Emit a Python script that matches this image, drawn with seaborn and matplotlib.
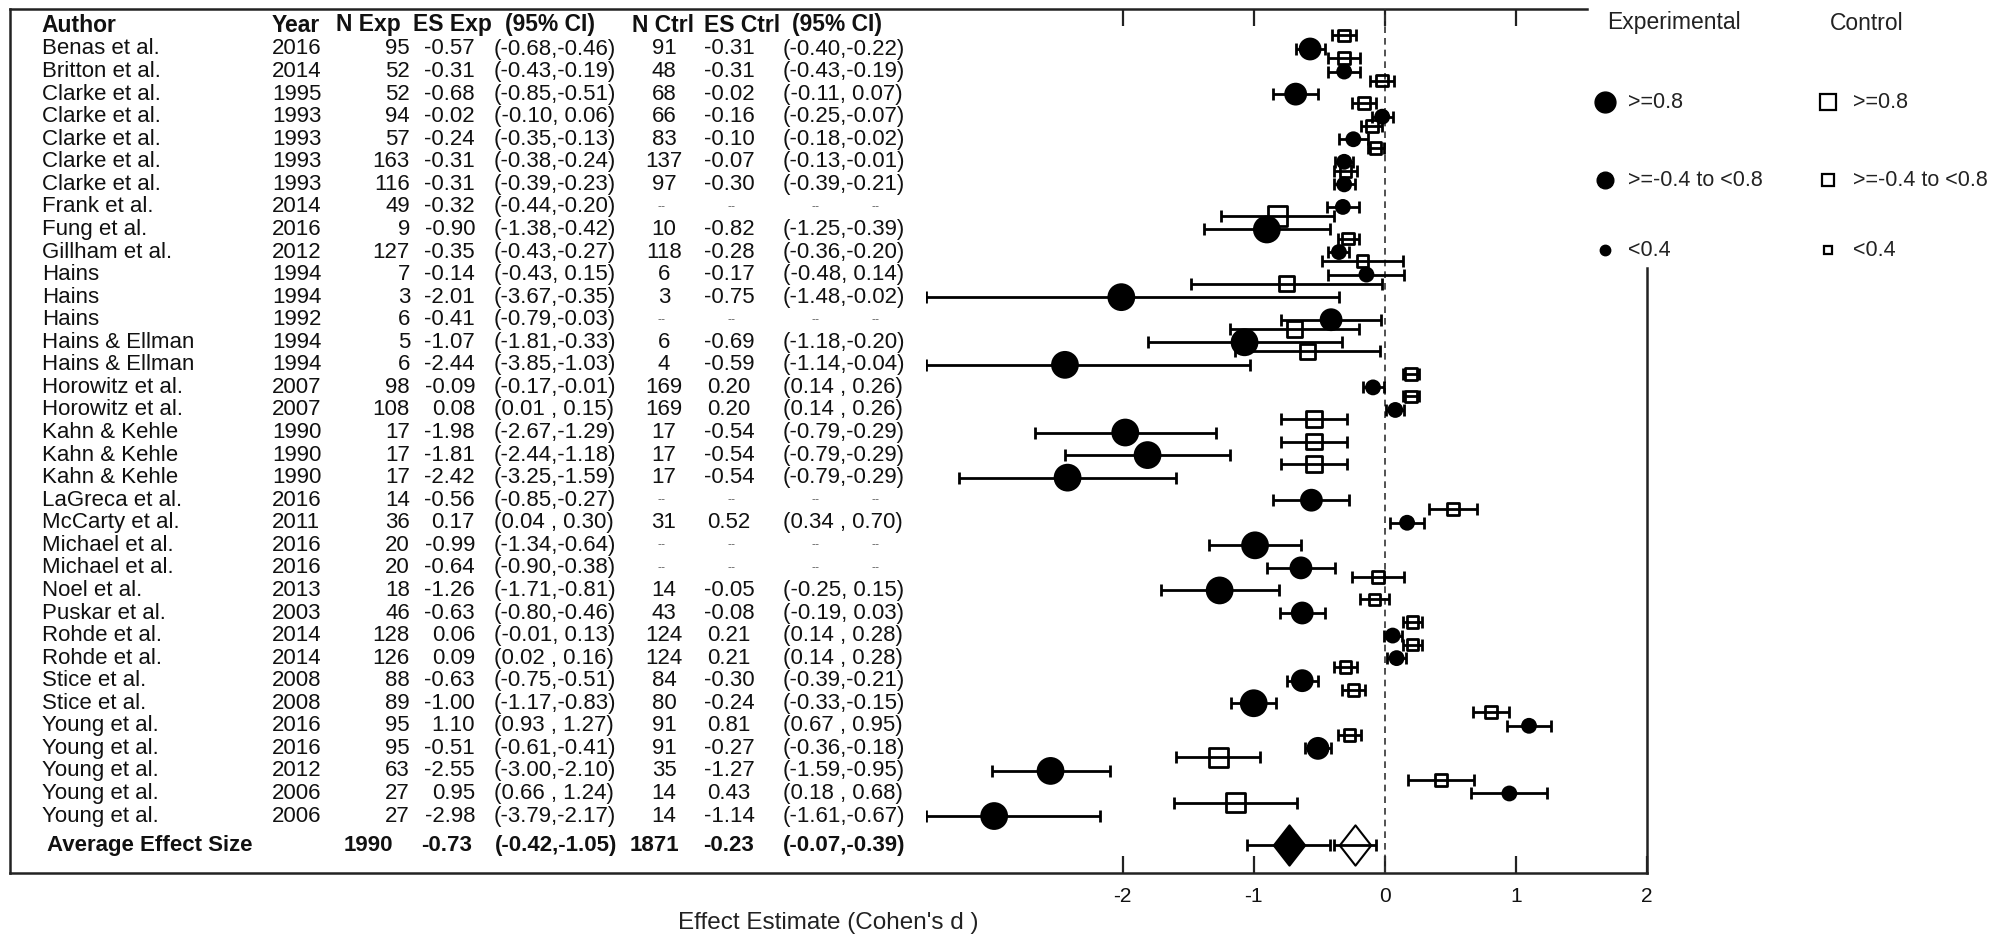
import matplotlib.pyplot as plt
import numpy as np
import pandas as pd
import seaborn as sns
from matplotlib.path import Path

nan = np.nan

# ---- data ----
authors = [
    "Benas et al.", "Britton et al.", "Clarke et al.", "Clarke et al.", "Clarke et al.",
    "Clarke et al.", "Clarke et al.", "Frank et al.", "Fung et al.", "Gillham et al.",
    "Hains", "Hains", "Hains", "Hains & Ellman", "Hains & Ellman",
    "Horowitz et al.", "Horowitz et al.", "Kahn & Kehle", "Kahn & Kehle", "Kahn & Kehle",
    "LaGreca et al.", "McCarty et al.", "Michael et al.", "Michael et al.", "Noel et al.",
    "Puskar et al.", "Rohde et al.", "Rohde et al.", "Stice et al.", "Stice et al.",
    "Young et al.", "Young et al.", "Young et al.", "Young et al.", "Young et al.",
]
years = [2016, 2014, 1995, 1993, 1993, 1993, 1993, 2014, 2016, 2012,
         1994, 1994, 1992, 1994, 1994, 2007, 2007, 1990, 1990, 1990,
         2016, 2011, 2016, 2016, 2013, 2003, 2014, 2014, 2008, 2008,
         2016, 2016, 2012, 2006, 2006]
n_exp = [95, 52, 52, 94, 57, 163, 116, 49, 9, 127,
         7, 3, 6, 5, 6, 98, 108, 17, 17, 17,
         14, 36, 20, 20, 18, 46, 128, 126, 88, 89,
         95, 95, 63, 27, 27]
es_exp = [-0.57, -0.31, -0.68, -0.02, -0.24, -0.31, -0.31, -0.32, -0.90, -0.35,
          -0.14, -2.01, -0.41, -1.07, -2.44, -0.09, 0.08, -1.98, -1.81, -2.42,
          -0.56, 0.17, -0.99, -0.64, -1.26, -0.63, 0.06, 0.09, -0.63, -1.00,
          1.10, -0.51, -2.55, 0.95, -2.98]
lo_exp = [-0.68, -0.43, -0.85, -0.10, -0.35, -0.38, -0.39, -0.44, -1.38, -0.43,
          -0.43, -3.67, -0.79, -1.81, -3.85, -0.17, 0.01, -2.67, -2.44, -3.25,
          -0.85, 0.04, -1.34, -0.90, -1.71, -0.80, -0.01, 0.02, -0.75, -1.17,
          0.93, -0.61, -3.00, 0.66, -3.79]
hi_exp = [-0.46, -0.19, -0.51, 0.06, -0.13, -0.24, -0.23, -0.20, -0.42, -0.27,
          0.15, -0.35, -0.03, -0.33, -1.03, -0.01, 0.15, -1.29, -1.18, -1.59,
          -0.27, 0.30, -0.64, -0.38, -0.81, -0.46, 0.13, 0.16, -0.51, -0.83,
          1.27, -0.41, -2.10, 1.24, -2.17]
n_ctrl = [91, 48, 68, 66, 83, 137, 97, nan, 10, 118,
          6, 3, nan, 6, 4, 169, 169, 17, 17, 17,
          nan, 31, nan, nan, 14, 43, 124, 124, 84, 80,
          91, 91, 35, 14, 14]
es_ctrl = [-0.31, -0.31, -0.02, -0.16, -0.10, -0.07, -0.30, nan, -0.82, -0.28,
           -0.17, -0.75, nan, -0.69, -0.59, 0.20, 0.20, -0.54, -0.54, -0.54,
           nan, 0.52, nan, nan, -0.05, -0.08, 0.21, 0.21, -0.30, -0.24,
           0.81, -0.27, -1.27, 0.43, -1.14]
lo_ctrl = [-0.40, -0.43, -0.11, -0.25, -0.18, -0.13, -0.39, nan, -1.25, -0.36,
           -0.48, -1.48, nan, -1.18, -1.14, 0.14, 0.14, -0.79, -0.79, -0.79,
           nan, 0.34, nan, nan, -0.25, -0.19, 0.14, 0.14, -0.39, -0.33,
           0.67, -0.36, -1.59, 0.18, -1.61]
hi_ctrl = [-0.22, -0.19, 0.07, -0.07, -0.02, -0.01, -0.21, nan, -0.39, -0.20,
           0.14, -0.02, nan, -0.20, -0.04, 0.26, 0.26, -0.29, -0.29, -0.29,
           nan, 0.70, nan, nan, 0.15, 0.03, 0.28, 0.28, -0.21, -0.15,
           0.95, -0.18, -0.95, 0.68, -0.67]

avg_n = [1990, 1871]
avg_es = [-0.73, -0.23]
avg_lo = [-1.05, -0.39]
avg_hi = [-0.42, -0.07]

headers = ["Author", "Year", "N Exp", "ES Exp", "(95% CI)", "N Ctrl", "ES Ctrl", "(95% CI)"]
size_labels = [">=0.8", ">=-0.4 to <0.8", "<0.4"]

# ---- layout (pixels of the 2010x946 canvas) ----
W, H, DPI = 2010, 946, 100
ROW0, ROW_H, AVG_Y, HEAD_Y = 49, 22.56, 845, 25
FRAME_L, FRAME_T, FRAME_R, FRAME_B = 10, 9, 1647, 873
AX_L = 926
XMIN, XMAX = -3.5, 2
INK = "#111111"
FS = 16


def size_class(v):
    if v <= -0.8:
        return size_labels[0]
    if v <= -0.4:
        return size_labels[1]
    return size_labels[2]


def ci_text(lo, hi):
    if lo < 0 and hi < 0:
        return f"({lo:.2f},{hi:.2f})"
    if lo < 0:
        return f"({lo:.2f}, {hi:.2f})"
    return f"({lo:.2f} , {hi:.2f})"


df = pd.DataFrame(dict(author=authors, year=years, n_exp=n_exp, es_exp=es_exp,
                       lo_exp=lo_exp, hi_exp=hi_exp, n_ctrl=n_ctrl, es_ctrl=es_ctrl,
                       lo_ctrl=lo_ctrl, hi_ctrl=hi_ctrl))
df["y"] = ROW0 + ROW_H * np.arange(len(df))
df["y_ctrl"] = df["y"] - 0.6 * ROW_H
df["exp_cls"] = df["es_exp"].map(size_class)
ctrl = df.dropna(subset=["es_ctrl"]).copy()
ctrl["ctrl_cls"] = ctrl["es_ctrl"].map(size_class)

sns.set_theme(style="white")
plt.rcParams["font.family"] = ["Liberation Sans", "DejaVu Sans"]
plt.rcParams["axes.unicode_minus"] = False

fig = plt.figure(figsize=(W / DPI, H / DPI), dpi=DPI)

# background axes in pixel units: table, frame, legend
bg = fig.add_axes([0, 0, 1, 1])
bg.set_xlim(0, W)
bg.set_ylim(H, 0)
bg.axis("off")

# forest plot axes
ax = fig.add_axes([AX_L / W, 1 - FRAME_B / H, (FRAME_R - AX_L) / W, (FRAME_B - FRAME_T) / H])
ax.set_xlim(XMIN, XMAX)
ax.set_ylim(FRAME_B, FRAME_T)
ax.patch.set_alpha(0)
for sp in ax.spines.values():
    sp.set_visible(False)

# frame
fkw = dict(color="#222222", lw=1.8, solid_capstyle="projecting", clip_on=False)
bg.plot([FRAME_L, 1587], [FRAME_T, FRAME_T], **fkw)
bg.plot([FRAME_L, FRAME_L], [FRAME_T, FRAME_B], **fkw)
bg.plot([FRAME_L, FRAME_R], [FRAME_B, FRAME_B], **fkw)
bg.plot([FRAME_R, FRAME_R], [268, FRAME_B], **fkw)

# table header
hx = [41, 272, 336, 413, 505, 632, 704, 792]
for x, h in zip(hx, headers):
    bg.text(x, HEAD_Y, h, fontsize=FS + 0.5, fontweight="bold", color=INK, va="center", ha="left")

# table rows
for _, r in df.iterrows():
    y = r["y"]
    tkw = dict(fontsize=FS, color=INK, va="center")
    bg.text(42, y, r["author"], ha="left", **tkw)
    bg.text(272, y, str(r["year"]), ha="left", **tkw)
    bg.text(410, y, str(r["n_exp"]), ha="right", **tkw)
    bg.text(475, y, f"{r['es_exp']:.2f}", ha="right", **tkw)
    bg.text(494, y, ci_text(r["lo_exp"], r["hi_exp"]), ha="left", **tkw)
    if np.isnan(r["es_ctrl"]):
        for x in (662, 731, 815, 875):
            bg.text(x, y, "--", ha="center", fontsize=9, color="#666666", va="center")
    else:
        bg.text(664, y, str(int(r["n_ctrl"])), ha="center", **tkw)
        bg.text(729, y, f"{r['es_ctrl']:.2f}", ha="center", **tkw)
        bg.text(783, y, ci_text(r["lo_ctrl"], r["hi_ctrl"]), ha="left", **tkw)

# average row
akw = dict(fontsize=FS, fontweight="bold", color=INK, va="center")
bg.text(47, AVG_Y, "Average Effect Size", ha="left", **akw)
bg.text(393, AVG_Y, str(avg_n[0]), ha="right", **akw)
bg.text(472, AVG_Y, f"{avg_es[0]:.2f}", ha="right", **akw)
bg.text(495, AVG_Y, f"({avg_hi[0]:.2f},{avg_lo[0]:.2f})", ha="left", **akw)
bg.text(654, AVG_Y, str(avg_n[1]), ha="center", **akw)
bg.text(729, AVG_Y, f"{avg_es[1]:.2f}", ha="center", **akw)
bg.text(783, AVG_Y, f"({avg_hi[1]:.2f},{avg_lo[1]:.2f})", ha="left", **akw)

# zero line
ax.axvline(0, color="#333333", lw=1.2, ls=(0, (4, 3)), zorder=1)

# error bars (clipped at the left edge, caps drawn there)
ekw = dict(fmt="none", ecolor="black", elinewidth=2, capsize=4.5, capthick=2, zorder=2)
lo_e = df["lo_exp"].clip(lower=XMIN)
ax.errorbar(df["es_exp"], df["y"], xerr=[df["es_exp"] - lo_e, df["hi_exp"] - df["es_exp"]], **ekw)
lo_c = ctrl["lo_ctrl"].clip(lower=XMIN)
ax.errorbar(ctrl["es_ctrl"], ctrl["y_ctrl"], xerr=[ctrl["es_ctrl"] - lo_c, ctrl["hi_ctrl"] - ctrl["es_ctrl"]], **ekw)

# markers
exp_sizes = dict(zip(size_labels, [400, 270, 130]))
ctrl_sizes = dict(zip(size_labels, [190, 125, 70]))
sns.scatterplot(data=df, x="es_exp", y="y", size="exp_cls", sizes=exp_sizes,
                size_order=size_labels, marker="o", color="black", edgecolor="black",
                linewidth=0, legend=False, ax=ax, zorder=3)
sns.scatterplot(data=ctrl, x="es_ctrl", y="y_ctrl", size="ctrl_cls", sizes=ctrl_sizes,
                size_order=size_labels, marker="s", facecolor="none", edgecolor="black",
                linewidth=2, legend=False, ax=ax, zorder=3)

# average diamonds
diamond = Path([(-0.78, 0), (0, 1), (0.78, 0), (0, -1), (-0.78, 0)],
               [Path.MOVETO, Path.LINETO, Path.LINETO, Path.LINETO, Path.CLOSEPOLY])
for es, lo, hi, fc in zip(avg_es, avg_lo, avg_hi, ["black", "none"]):
    ax.errorbar([es], [AVG_Y], xerr=[[es - lo], [hi - es]], fmt="none", ecolor="black",
                elinewidth=2, capsize=4.5, capthick=2, zorder=2)
    ax.plot([es], [AVG_Y], marker=diamond, ms=29, mfc=fc, mec="black", mew=1.5,
            ls="none", zorder=3)

# axis ticks
ax.set_ylabel("")
ax.set_yticks([])
ax.set_xticks([-2, -1, 0, 1, 2])
ax.tick_params(axis="x", direction="in", length=12, width=1.6, color="#222222",
               bottom=True, top=False, labelsize=15, labelcolor=INK, pad=10)
secax = ax.secondary_xaxis("top")
secax.set_xticks([-2, -1, 0, 1])
secax.tick_params(direction="in", length=12, width=1.6, color="#222222", labeltop=False)
for sp in secax.spines.values():
    sp.set_visible(False)

ax.set_xlabel("Effect Estimate (Cohen's d )", fontsize=17.5, color="#222222")
ax.xaxis.set_label_coords((828 - AX_L) / (FRAME_R - AX_L), (FRAME_B - 923) / (FRAME_B - FRAME_T))
ax.xaxis.label.set_va("center")

# legend
bg.text(1607, 23, "Experimental", fontsize=16.5, color="#222222", va="center", ha="left")
bg.text(1830, 23, "Control", fontsize=16.5, color="#222222", va="center", ha="left")
leg_y = [102, 180, 250]
for yy, lab, ms_c, ms_s in zip(leg_y, size_labels, [15, 12, 7.5], [11, 9, 6]):
    bg.plot([1605], [yy], marker="o", ms=ms_c, color="black", ls="none")
    bg.text(1628, yy, lab, fontsize=15.5, color="#222222", va="center", ha="left")
    bg.plot([1828], [yy], marker="s", ms=ms_s, mfc="white", mec="black", mew=1.6, ls="none")
    bg.text(1853, yy, lab, fontsize=15.5, color="#222222", va="center", ha="left")

fig.savefig("out.png", dpi=DPI)
